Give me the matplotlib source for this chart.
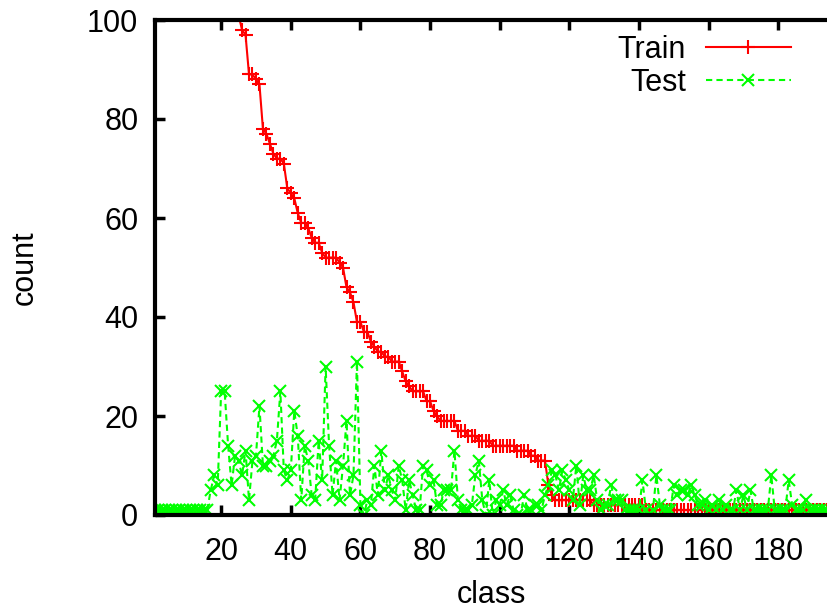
import numpy as np
import matplotlib
matplotlib.use("Agg")
import matplotlib.pyplot as plt

plt.rcParams['font.family'] = ['Liberation Sans', 'DejaVu Sans']

classes = list(range(1, 195))

# train counts, sorted descending (first ones are above the y range)
train = [900, 640, 520, 450, 400, 360, 320, 290, 265, 240,
         220, 200, 185, 172, 160, 150, 140, 132, 125, 118,
         113, 108, 105, 103, 101,
         98, 97, 89, 89, 88, 87, 78, 77, 75, 73, 72, 72, 71, 66, 65,
         64, 61, 59, 59, 58, 56, 55, 55, 53, 52, 52, 52, 52, 51, 50,
         46, 45, 43, 39, 39, 37, 37, 35, 34, 33, 33, 32, 32, 31, 31,
         31, 29, 27, 26, 25, 25, 25, 25, 23, 23, 21, 20, 19, 19, 19,
         19, 19, 17, 17, 17, 16, 16, 16, 15, 15, 15, 15, 14, 14, 14,
         14, 14, 14, 14, 13, 13, 13, 13, 12, 12, 11, 11, 11, 6, 4,
         3, 3, 3, 3, 3, 3, 3, 3, 3, 3, 3,
         2, 2, 2, 2, 2, 2, 2, 2, 2, 2, 2, 2, 2, 2, 2,
         1, 1, 1, 1, 1, 1, 1, 1, 1, 1, 1, 1, 1, 1, 1, 1, 1, 1,
         1, 1, 1, 1, 1, 1, 1, 1, 1, 1, 1, 1, 1, 1, 1, 1, 1, 1,
         1, 1, 1, 1, 1, 1, 1, 1, 1, 1, 1, 1, 1, 1, 1, 1, 1]

test = [1, 1, 1, 1, 1, 1, 1, 1, 1, 1, 1, 1, 1, 1, 1, 1,
        5, 8, 6, 25, 25, 14, 6, 12, 11, 8, 13, 3, 11, 12,
        22, 10, 10, 11, 12, 15, 25, 9, 7, 9, 21, 16, 3, 14, 11,
        4, 3, 15, 7, 30, 14, 4, 11, 3, 10, 19, 4, 8, 31, 2,
        0, 3, 2, 10, 4, 13, 5, 8, 5, 3, 10, 7, 1, 7, 4,
        1, 1, 10, 9, 6, 7, 2, 2, 5, 5, 5, 13, 3, 1, 1,
        1, 2, 8, 11, 3, 0, 7, 0, 3, 2, 5, 2, 4, 1, 0,
        0, 4, 1, 1, 2, 2, 1, 4, 6, 9, 8, 5, 9, 7, 5,
        3, 10, 2, 8, 5, 5, 8, 3, 1, 2, 2, 6, 3, 3, 3,
        1, 1, 1, 1, 1, 7, 1, 0, 1, 8, 2, 1, 1, 1, 6,
        4, 5, 5, 4, 6, 4, 2, 2, 3, 1, 2, 1, 3, 1, 2,
        1, 1, 5, 1, 4, 1, 5, 1, 1, 1, 1, 1, 8, 1, 1,
        1, 1, 7, 2, 1, 1, 1, 3, 1, 1, 1, 1, 1, 1]

yticks = [0, 20, 40, 60, 80, 100]
xticks = [20, 40, 60, 80, 100, 120, 140, 160, 180]


def main():
    fig = plt.figure(figsize=(8.27, 6.10), dpi=100)
    ax = fig.add_axes([155 / 827, 1 - 515 / 610, 1 - 155 / 827, (515 - 20) / 610])

    ax.plot(classes, train, "-", color="#ff0000", lw=1.5, marker="+",
            ms=10, mew=1.5, label="Train")
    ax.plot(classes, test, "--", color="#00ff00", lw=1.5, marker="x",
            ms=8, mew=1.5, dashes=(3, 2), label="Test")

    ax.set_xlim(1, 194)
    ax.set_ylim(0, 100)
    ax.set_xticks(xticks)
    ax.set_yticks(yticks)
    ax.tick_params(direction="in", length=7, width=2.5, labelsize=22,
                   top=True, right=False, pad=12)
    ax.tick_params(axis="x", pad=16)
    for s in ["left", "bottom", "top"]:
        ax.spines[s].set_linewidth(3)
    ax.spines["right"].set_visible(False)

    ax.set_xlabel("class", fontsize=22, labelpad=9)
    ax.set_ylabel("count", fontsize=22, labelpad=34)

    ax.legend(loc="upper right", frameon=False, fontsize=22, markerfirst=False,
              handlelength=2.8, handletextpad=0.65, borderaxespad=0.0,
              labelspacing=0.1, bbox_to_anchor=(0.965, 0.995))

    fig.savefig("out.png", dpi=100)


if __name__ == "__main__":
    main()
